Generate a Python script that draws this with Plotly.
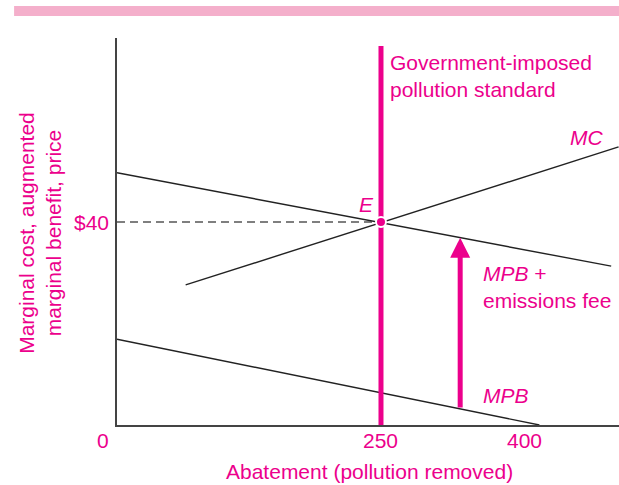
import plotly.graph_objects as go

# ---- data ----
mc_x = [65, 475]
mc_y = [27.6, 54.8]
mpb_fee_x = [0, 468]
mpb_fee_y = [49.7, 31.3]
mpb_x = [0, 400]
mpb_y = [16.9, 0]
standard_x = 250
standard_top = 74.7
eq_x, eq_y = 250, 40
arrow_x = 325
x_tick_vals = [0, 250, 400]
x_tick_text = ["0", "250", "400"]
y_tick_vals = [40]
y_tick_text = ["$40"]

PINK = "#ec008c"
FONT = "Liberation Sans, Arial, sans-serif"

def interp(xs, ys, x):
    return ys[0] + (ys[1] - ys[0]) * (x - xs[0]) / (xs[1] - xs[0])

fig = go.Figure()

# dashed guide to y axis
fig.add_trace(go.Scatter(x=[0, eq_x], y=[eq_y, eq_y], mode="lines",
                         line=dict(color="#555", width=1.3, dash="8px,5px"), hoverinfo="skip"))
# curves
fig.add_trace(go.Scatter(x=mpb_fee_x, y=mpb_fee_y, mode="lines",
                         line=dict(color="#222", width=1.4), hoverinfo="skip"))
fig.add_trace(go.Scatter(x=mc_x, y=mc_y, mode="lines",
                         line=dict(color="#222", width=1.4), hoverinfo="skip"))
fig.add_trace(go.Scatter(x=mpb_x, y=mpb_y, mode="lines",
                         line=dict(color="#222", width=1.4), hoverinfo="skip"))
# standard
fig.add_trace(go.Scatter(x=[standard_x, standard_x], y=[0, standard_top], mode="lines",
                         line=dict(color=PINK, width=5), hoverinfo="skip"))
# equilibrium point
fig.add_trace(go.Scatter(x=[eq_x], y=[eq_y], mode="markers",
                         marker=dict(color=PINK, size=10, line=dict(color="white", width=2)),
                         hoverinfo="skip"))

ann = []
# arrow
ann.append(dict(x=arrow_x, y=interp(mpb_fee_x, mpb_fee_y, arrow_x),
                ax=arrow_x, ay=interp(mpb_x, mpb_y, arrow_x),
                xref="x", yref="y", axref="x", ayref="y", text="", showarrow=True,
                arrowhead=2, arrowwidth=5, arrowsize=0.8, arrowcolor=PINK))

tf = dict(family=FONT, size=21, color=PINK)
# tick labels
for v, t, sh in zip(x_tick_vals, x_tick_text, [-14, 0, -15]):
    ann.append(dict(x=v, y=0, xref="x", yref="y", text=t, showarrow=False,
                    xanchor="center", yanchor="middle", yshift=-15, xshift=sh, font=tf))
for v, t in zip(y_tick_vals, y_tick_text):
    ann.append(dict(x=0, y=v, xref="x", yref="y", text=t, showarrow=False,
                    xanchor="right", yanchor="middle", xshift=-6, font=tf))
# axis titles
ann.append(dict(x=0.503, y=-0.1214, xref="paper", yref="paper",
                text="Abatement (pollution removed)", showarrow=False,
                xanchor="center", yanchor="middle", font=tf))
ann.append(dict(x=-0.155, y=0.497, xref="paper", yref="paper",
                text="Marginal cost, augmented<br>marginal benefit, price", showarrow=False,
                textangle=-90, xanchor="center", yanchor="middle", font=tf))
# labels
ann.append(dict(x=standard_x, y=standard_top, xref="x", yref="y",
                text="Government-imposed<br>pollution standard", showarrow=False,
                xanchor="left", yanchor="top", align="left", xshift=7, yshift=-3, font=tf))
ann.append(dict(x=eq_x, y=eq_y, xref="x", yref="y", text="<i>E</i>", showarrow=False,
                xanchor="center", yanchor="middle", xshift=-14, yshift=18, font=tf))
ann.append(dict(x=445, y=56.6, xref="x", yref="y", text="<i>MC</i>", showarrow=False,
                xanchor="center", yanchor="middle", font=tf))
ann.append(dict(x=345, y=interp(mpb_fee_x, mpb_fee_y, 345), xref="x", yref="y",
                text="<i>MPB</i> +<br>emissions fee", showarrow=False, align="left",
                xanchor="left", yanchor="top", yshift=-18, font=tf))
ann.append(dict(x=345, y=interp(mpb_x, mpb_y, 345), xref="x", yref="y",
                text="<i>MPB</i>", showarrow=False,
                xanchor="left", yanchor="middle", yshift=18, font=tf))

fig.update_layout(
    width=619, height=485,
    margin=dict(l=117, r=0, t=38, b=60),
    paper_bgcolor="white", plot_bgcolor="white",
    showlegend=False,
    annotations=ann,
    xaxis=dict(range=[0, 475.4], showgrid=False, zeroline=False, showticklabels=False,
               ticks="", showline=True, linecolor="#444", linewidth=1.5),
    yaxis=dict(range=[0, 76.26], showgrid=False, zeroline=False, showticklabels=False,
               ticks="", showline=True, linecolor="#444", linewidth=1.5),
    shapes=[dict(type="rect", xref="paper", yref="paper", x0=-0.205, x1=1.0,
                 y0=1.0568, y1=1.0827, fillcolor="#f4afcb", line=dict(width=0), layer="above")],
)

fig.write_html("out.html", config={"displayModeBar": False},
               post_script="document.body.style.margin='0';document.body.style.overflow='hidden';")
